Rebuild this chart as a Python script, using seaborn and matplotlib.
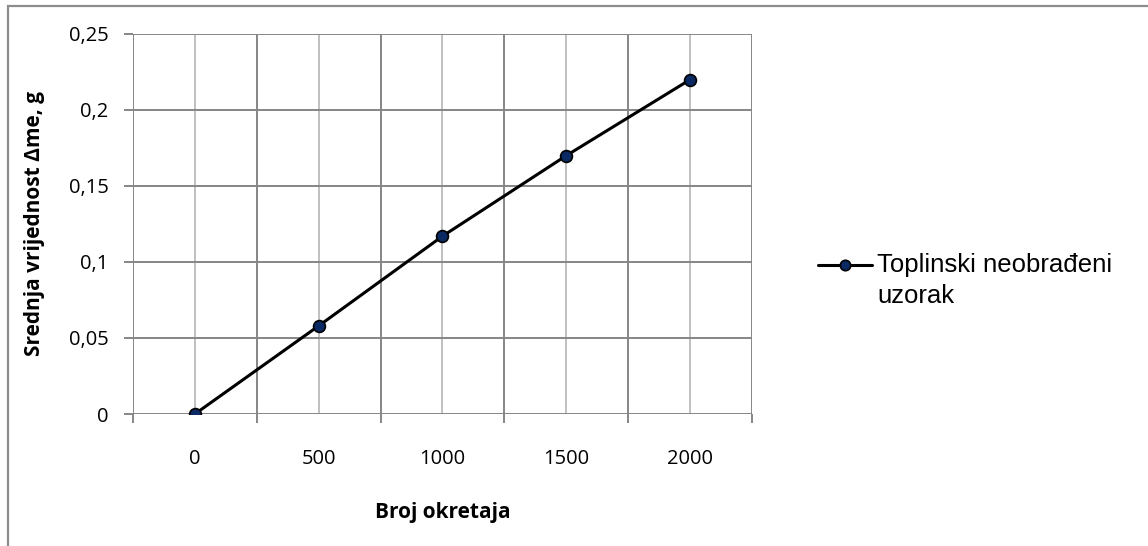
import numpy as np
import pandas as pd
import matplotlib
matplotlib.use("Agg")
import matplotlib.pyplot as plt
from matplotlib.patches import Rectangle
import seaborn as sns

# Data
broj_okretaja = ["0", "500", "1000", "1500", "2000"]
delta_m = [0.0, 0.058, 0.117, 0.170, 0.220]
series_name = "Toplinski neobrađeni\nuzorak"
y_ticks = [0, 0.05, 0.10, 0.15, 0.20, 0.25]
y_tick_labels = ["0", "0,05", "0,1", "0,15", "0,2", "0,25"]

df = pd.DataFrame({"Broj okretaja": broj_okretaja, "dm": delta_m})

sns.set_theme(style="white")
plt.rcParams["font.family"] = ["Open Sans", "DejaVu Sans"]
plt.rcParams["text.color"] = "black"
plt.rcParams["axes.labelcolor"] = "black"

fig = plt.figure(figsize=(11.48, 5.46), dpi=100)
ax = fig.add_axes([133 / 1148, 1 - 414 / 546, (752 - 133) / 1148, (414 - 34) / 546])

# outer chart border (cropped at right/bottom like the source)
fig.patches.append(Rectangle((8 / 1148, -0.05), 1.2, 1 - 6.5 / 546 + 0.05,
                             transform=fig.transFigure, fill=False,
                             edgecolor="#8c8c8c", linewidth=1.6, zorder=0))

sns.lineplot(data=df, x="Broj okretaja", y="dm", ax=ax, color="black",
             linewidth=2.2, marker="o", markersize=8.5,
             markerfacecolor="#0b2a63", markeredgecolor="black",
             markeredgewidth=1.2, label=series_name, zorder=5)

n = len(broj_okretaja)
ax.set_xlim(-0.5, n - 0.5)
ax.set_ylim(0, 0.25)

# category ticks and boundaries
ax.set_xticks(range(n))
ax.set_xticklabels(broj_okretaja)
ax.set_xticks(np.arange(-0.5, n, 1.0), minor=True)
ax.tick_params(axis="x", which="major", length=0, pad=25, labelsize=14.5, colors="black")
ax.tick_params(axis="x", which="minor", length=6.5, width=1.4, color="#868686", bottom=True)
ax.set_yticks(y_ticks)
ax.set_yticklabels(y_tick_labels)
ax.tick_params(axis="y", length=6.5, width=1.4, color="#868686", left=True, pad=11,
               labelsize=14.5, labelcolor="black")

ax.grid(False)
ax.grid(axis="x", which="major", color="#c0c0c0", linewidth=1.4)
ax.grid(axis="x", which="minor", color="#868686", linewidth=1.4)
ax.grid(axis="y", which="major", color="#868686", linewidth=1.4)
for s in ax.spines.values():
    s.set_visible(False)

ax.set_xlabel("Broj okretaja", fontsize=15, fontweight="bold", labelpad=24)
ax.set_ylabel("Srednja vrijednost Δme, g", fontsize=15, fontweight="bold", labelpad=17)

leg = ax.legend(loc="center left", bbox_to_anchor=(1.09, 0.352), frameon=False,
                handlelength=2.1, handleheight=1.4, handletextpad=0.2,
                borderaxespad=0, labelspacing=0.3,
                prop={"family": "Liberation Sans", "size": 18.5})
for h in leg.legend_handles:
    h.set_markersize(7.5)
for t in leg.get_texts():
    t.set_linespacing(1.35)
    t.set_color("black")
# put the marker next to the first line of the label, like Excel does
for col in leg._legend_handle_box.get_children():
    for row in col.get_children():
        row.align = "top"

fig.savefig("out.png", dpi=100)
